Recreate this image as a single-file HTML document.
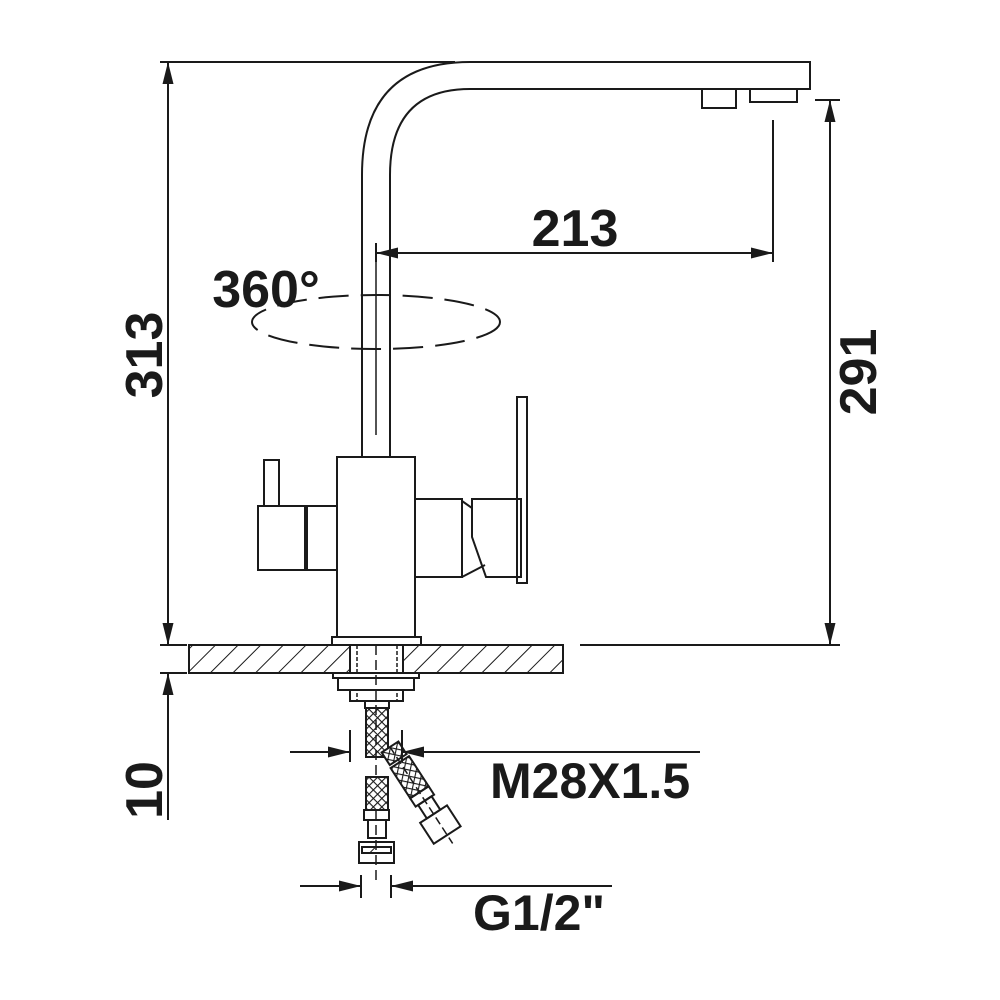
<!DOCTYPE html>
<html><head><style>body{margin:0;background:#fff}svg{display:block}text{font-family:"Liberation Sans",sans-serif;font-weight:bold;fill:#1a1a1a}</style></head>
<body>
<svg width="1000" height="1000" viewBox="0 0 1000 1000" xmlns="http://www.w3.org/2000/svg">
<defs>
<pattern id="h" width="16" height="16" patternUnits="userSpaceOnUse" patternTransform="rotate(45)">
<line x1="0" y1="0" x2="0" y2="16" stroke="#1a1a1a" stroke-width="2"/>
</pattern>
<pattern id="b" width="6" height="6" patternUnits="userSpaceOnUse" patternTransform="rotate(45)">
<rect width="6" height="6" fill="#fff"/><path d="M0 0H6M0 0V6" stroke="#1a1a1a" stroke-width="2.2"/>
</pattern>
<marker id="a" viewBox="0 0 22 12" refX="22" refY="6" markerWidth="22" markerHeight="12" markerUnits="userSpaceOnUse" orient="auto-start-reverse"><path d="M0 0.5L22 6L0 11.5Z" fill="#1a1a1a"/></marker>
</defs>
<g fill="none" stroke="#1a1a1a" stroke-width="2">
<!-- spout -->
<path d="M362 457V175Q362 62 470 62H810V89H470Q390 89 390 175V457"/>
<rect x="702" y="89" width="34" height="19"/>
<rect x="750" y="89" width="47" height="13"/>
<line x1="376" y1="245" x2="376" y2="435" stroke-width="1.5"/>
<!-- 360 ellipse -->
<ellipse cx="376" cy="322" rx="124" ry="27" stroke-dasharray="30 12"/>
<!-- body -->
<rect x="337" y="457" width="78" height="180"/>
<rect x="332" y="637" width="89" height="8"/>
<rect x="264" y="460" width="15" height="46"/>
<rect x="258" y="506" width="47" height="64"/>
<rect x="307" y="506" width="30" height="64"/>
<line x1="306" y1="506" x2="306" y2="570" stroke-width="3"/>
<rect x="415" y="499" width="47" height="78"/>
<path d="M462 501L472 508V537L486 577H521V499H472V508M462 577L485 565"/>
<rect x="517" y="397" width="10" height="186"/>
<!-- counter -->
<rect x="189" y="645" width="374" height="28" fill="url(#h)"/>
<rect x="350" y="645" width="53" height="56" fill="#fff"/>
<line x1="357" y1="645" x2="357" y2="701" stroke-dasharray="4 2" stroke-width="1.5"/>
<line x1="397" y1="645" x2="397" y2="701" stroke-dasharray="4 2" stroke-width="1.5"/>
<rect x="333" y="673" width="86" height="5" fill="#fff"/>
<rect x="338" y="678" width="76" height="12" fill="#fff"/>
<rect x="365" y="701" width="24" height="7"/>
<rect x="366" y="708" width="22" height="49" fill="url(#b)"/>
<line x1="376" y1="645" x2="376" y2="880" stroke-dasharray="10 5" stroke-width="1.5"/>
<!-- hose 2 -->
<rect x="366" y="777" width="22" height="33" fill="url(#b)"/>
<rect x="364" y="810" width="25" height="10"/>
<rect x="368" y="820" width="18" height="18"/>
<rect x="359" y="842" width="35" height="21"/>
<rect x="362" y="847" width="29" height="6" fill="url(#h)"/>
<!-- diagonal hose -->
<g transform="translate(390 747) rotate(-33)">
<rect x="-10" y="0" width="20" height="15" fill="url(#b)"/>
<rect x="-11" y="18" width="22" height="36" fill="url(#b)"/>
<rect x="-11" y="54" width="22" height="10"/>
<rect x="-8" y="64" width="16" height="16"/>
<rect x="-16" y="80" width="32" height="25"/>
<line x1="0" y1="0" x2="0" y2="115" stroke-dasharray="8 4" stroke-width="1.5"/>
</g>
<!-- dimensions -->
<line x1="160" y1="62" x2="455" y2="62"/>
<line x1="168" y1="62" x2="168" y2="645" marker-start="url(#a)" marker-end="url(#a)"/>
<line x1="160" y1="645" x2="187" y2="645"/>
<line x1="160" y1="673" x2="187" y2="673"/>
<line x1="168" y1="673" x2="168" y2="820" marker-start="url(#a)"/>
<line x1="815" y1="100" x2="840" y2="100"/>
<line x1="580" y1="645" x2="840" y2="645"/>
<line x1="830" y1="100" x2="830" y2="645" marker-start="url(#a)" marker-end="url(#a)"/>
<line x1="773" y1="120" x2="773" y2="262"/>
<line x1="376" y1="243" x2="376" y2="262"/>
<line x1="376" y1="253" x2="773" y2="253" marker-start="url(#a)" marker-end="url(#a)"/>
<line x1="350" y1="730" x2="350" y2="762"/>
<line x1="402" y1="730" x2="402" y2="762"/>
<line x1="290" y1="752" x2="350" y2="752" marker-end="url(#a)"/>
<line x1="700" y1="752" x2="402" y2="752" marker-end="url(#a)"/>
<line x1="361" y1="875" x2="361" y2="898"/>
<line x1="391" y1="875" x2="391" y2="898"/>
<line x1="300" y1="886" x2="361" y2="886" marker-end="url(#a)"/>
<line x1="612" y1="886" x2="391" y2="886" marker-end="url(#a)"/>
</g>
<text x="575" y="246" font-size="52" text-anchor="middle">213</text>
<text x="266" y="307" font-size="52" text-anchor="middle">360°</text>
<text x="490" y="798" font-size="50">M28X1.5</text>
<text x="473" y="930" font-size="50">G1/2"</text>
<text transform="translate(162 355) rotate(-90)" font-size="52" text-anchor="middle">313</text>
<text transform="translate(876 372) rotate(-90)" font-size="52" text-anchor="middle">291</text>
<text transform="translate(162 790) rotate(-90)" font-size="52" text-anchor="middle">10</text>
</svg>
</body></html>
